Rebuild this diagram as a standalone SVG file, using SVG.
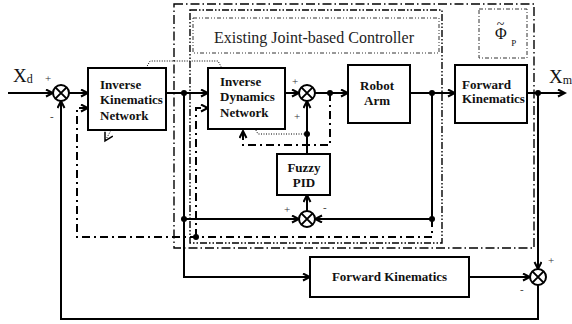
<svg xmlns="http://www.w3.org/2000/svg" width="572" height="324" viewBox="0 0 572 324">
  <style>
    text { font-family: "Liberation Serif", "DejaVu Serif", "Times New Roman", serif; }
    .box { fill: #fff; stroke: #000; stroke-width: 2; }
    .lbl { font-weight: bold; font-size: 13px; fill: #111; }
    .sig { font-size: 11px; fill: #333; }
    .wire { fill: none; stroke: #000; stroke-width: 2; }
    .ctrl { fill: none; stroke: #000; stroke-width: 2; stroke-dasharray: 8 4 2 4; }
    .learn { fill: none; stroke: #000; stroke-width: 1; stroke-dasharray: 1 1.5; }
    .sum { fill: #fff; stroke: #000; stroke-width: 2; }
    .dot { fill: #000; }
  </style>
  <defs>
    <marker id="arr" markerUnits="userSpaceOnUse" markerWidth="10" markerHeight="10" refX="8" refY="4" orient="auto">
      <path d="M1,0.5 L8,4 L1,7.5" fill="none" stroke="#000" stroke-width="2"/>
    </marker>
    <marker id="arrThin" markerUnits="userSpaceOnUse" markerWidth="12" markerHeight="12" refX="9" refY="5" orient="auto">
      <path d="M1,0.5 L9,5 L1,9.5" fill="none" stroke="#000" stroke-width="1.5"/>
    </marker>
    <g id="sumx">
      <circle r="8" class="sum"/>
      <path d="M-5.6,-5.6 L5.6,5.6 M-5.6,5.6 L5.6,-5.6" stroke="#000" stroke-width="2"/>
    </g>
  </defs>

  <!-- region frames -->
  <g id="frames" fill="none" stroke="#000">
    <rect x="174" y="4" width="360" height="244" stroke-width="1.4" stroke-dasharray="9 3 1.5 3"/>
    <rect x="190" y="10" width="252" height="233" stroke-width="1.4" stroke-dasharray="7 2 1.5 2 1.5 2"/>
    <rect x="193" y="18" width="246" height="35" stroke-width="1" stroke="#333" stroke-dasharray="4 2 1 2 1 2"/>
    <rect x="479" y="9" width="48" height="49" stroke-width="1" stroke="#333" stroke-dasharray="4 2 1 2"/>
  </g>
  <text x="214" y="43" font-size="16" fill="#222">Existing Joint-based Controller</text>
  <g id="phi">
    <text x="495" y="39" font-size="16" fill="#111">Φ<tspan font-size="14" dx="-10" dy="-10">~</tspan><tspan font-size="9" dx="7" dy="17">P</tspan></text>
  </g>

  <!-- connectors -->
  <g id="connectors">
    <path class="wire" d="M8,93 H53" marker-end="url(#arr)"/>
    <path class="wire" d="M69,93 H88" marker-end="url(#arr)"/>
    <path class="wire" d="M166,93 H208" marker-end="url(#arr)"/>
    <path class="wire" d="M285,93 H299" marker-end="url(#arr)"/>
    <path class="wire" d="M315,93 H348" marker-end="url(#arr)"/>
    <path class="wire" d="M410,93 H455" marker-end="url(#arr)"/>
    <path class="wire" d="M527,93 H565" marker-end="url(#arr)"/>
    <path class="wire" d="M538,93 V269" marker-end="url(#arr)"/>
    <path class="wire" d="M538,285 V319 H61 V101" marker-end="url(#arr)"/>
    <path class="wire" d="M184,93 V277 H310" marker-end="url(#arr)"/>
    <path class="wire" d="M184,219 H299" marker-end="url(#arr)"/>
    <path class="wire" d="M432,93 V219 H315" marker-end="url(#arr)"/>
    <path class="wire" d="M307,211 V195" marker-end="url(#arr)"/>
    <path class="wire" d="M307,154 V101" marker-end="url(#arr)"/>
    <path class="wire" d="M469,277 H530" marker-end="url(#arr)"/>

    <path class="ctrl" d="M330,93 V145 H243 V131" marker-end="url(#arr)"/>
    <path class="ctrl" d="M432,219 V237 H77 V108 H88" marker-end="url(#arr)"/>
    <path class="ctrl" d="M196,237 V108 H208" marker-end="url(#arr)"/>

    <path class="learn" d="M307,134 H258 L218,61 H150 L105,141" marker-end="url(#arrThin)"/>

    <circle class="dot" cx="184" cy="93" r="3"/>
    <circle class="dot" cx="330" cy="93" r="3"/>
    <circle class="dot" cx="432" cy="93" r="3"/>
    <circle class="dot" cx="538" cy="93" r="3"/>
    <circle class="dot" cx="184" cy="219" r="3"/>
    <circle class="dot" cx="432" cy="219" r="3"/>
    <circle class="dot" cx="307" cy="134" r="3"/>
    <circle class="dot" cx="196" cy="237" r="3"/>
  </g>

  <!-- summing junctions -->
  <g id="sum1"><use href="#sumx" x="61" y="93"/>
    <text class="sig" x="45" y="82">+</text><text class="sig" x="50" y="120">-</text></g>
  <g id="sum2"><use href="#sumx" x="307" y="93"/>
    <text class="sig" x="292" y="85">+</text><text class="sig" x="294" y="120">+</text></g>
  <g id="sum3"><use href="#sumx" x="307" y="219"/>
    <text class="sig" x="284" y="213" fill="#777">+</text><text class="sig" x="323" y="211" fill="#777">-</text></g>
  <g id="sum4"><use href="#sumx" x="538" y="277"/>
    <text class="sig" x="548" y="264">+</text><text class="sig" x="520" y="293">-</text></g>

  <!-- input / output labels -->
  <g id="xd">
    <text x="13" y="82" font-size="19" fill="#111">X<tspan font-size="12" dy="1">d</tspan></text>
  </g>
  <g id="xm">
    <text x="549" y="83" font-size="19" fill="#111">X<tspan font-size="12" dy="1">m</tspan></text>
  </g>

  <!-- blocks -->
  <g id="ik">
    <rect class="box" x="88" y="68" width="78" height="62"/>
    <text class="lbl" x="100" y="89">Inverse</text>
    <text class="lbl" x="100" y="104">Kinematics</text>
    <text class="lbl" x="100" y="120">Network</text>
  </g>
  <g id="idn">
    <rect class="box" x="208" y="68" width="77" height="61"/>
    <text class="lbl" x="220" y="86">Inverse</text>
    <text class="lbl" x="220" y="101">Dynamics</text>
    <text class="lbl" x="220" y="117">Network</text>
  </g>
  <g id="robot">
    <rect class="box" x="348" y="65" width="62" height="58"/>
    <text class="lbl" x="377" y="90" text-anchor="middle">Robot</text>
    <text class="lbl" x="377" y="105" text-anchor="middle">Arm</text>
  </g>
  <g id="fk">
    <rect class="box" x="455" y="65" width="72" height="58"/>
    <text class="lbl" x="462" y="89">Forward</text>
    <text class="lbl" x="462" y="103">Kinematics</text>
  </g>
  <g id="fuzzy">
    <rect class="box" x="277" y="154" width="53" height="41"/>
    <text class="lbl" x="304" y="172" text-anchor="middle">Fuzzy</text>
    <text class="lbl" x="304" y="187" text-anchor="middle">PID</text>
  </g>
  <g id="fk2">
    <rect class="box" x="310" y="257" width="159" height="40"/>
    <text class="lbl" x="389.5" y="281" text-anchor="middle">Forward Kinematics</text>
  </g>
</svg>
